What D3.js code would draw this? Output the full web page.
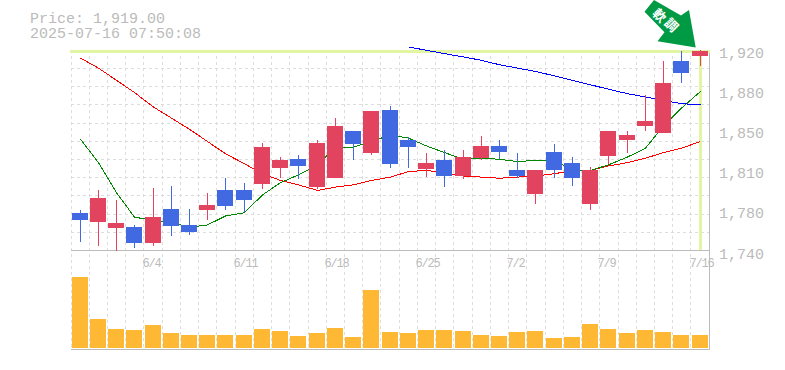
<!DOCTYPE html>
<html>
<head>
<meta charset="utf-8">
<script src="https://cdn.jsdelivr.net/npm/d3@7"></script>
<style>
  html, body { margin: 0; padding: 0; background: #fff; }
  text { font-family: "Liberation Mono", monospace; fill: #bbb; }
</style>
</head>
<body>
<svg id="chart" width="785" height="370"></svg>
<script>
const days = d3.range(35);

const opens = [1774, 1766, 1760, 1761, 1747, 1777, 1763, 1776, 1794, 1794, 1800, 1814, 1822, 1797, 1805, 1847, 1828, 1866, 1839, 1813, 1821, 1807, 1823, 1834, 1812, 1791, 1829, 1819, 1782, 1825, 1839, 1852, 1846, 1910, 1915];
const closes = [1767, 1787, 1765, 1747, 1770, 1762, 1757, 1781, 1780, 1785, 1833, 1821, 1816, 1837, 1852, 1836, 1865, 1818, 1833, 1819, 1807, 1824, 1834, 1829, 1807, 1812, 1812, 1805, 1812, 1847, 1844, 1856, 1891, 1900, 1919];
const highs = [1776, 1794, 1785, 1763, 1796, 1798, 1777, 1792, 1805, 1801, 1837, 1824, 1826, 1839, 1859, 1847, 1865, 1870, 1842, 1828, 1830, 1830, 1843, 1839, 1828, 1812, 1836, 1824, 1815, 1847, 1847, 1880, 1910, 1919, 1920];
const lows = [1748, 1744, 1740, 1742, 1744, 1753, 1754, 1767, 1776, 1775, 1795, 1805, 1804, 1795, 1805, 1821, 1826, 1814, 1814, 1806, 1797, 1804, 1821, 1822, 1805, 1782, 1805, 1798, 1776, 1818, 1828, 1847, 1846, 1891, 1906];

const maShort = [1840, 1819, 1792, 1770, 1767, 1765, 1761, 1763, 1771, 1774, 1790, 1801, 1808, 1817, 1833, 1833, 1838, 1844, 1841, 1834, 1828, 1822, 1823, 1822, 1820, 1821, 1821, 1812, 1812, 1817, 1824, 1832, 1852, 1868, 1883];
const maMid = [1913, 1904, 1893, 1882, 1869, 1859, 1849, 1838, 1827, 1818, 1809, 1803, 1799, 1794, 1797, 1799, 1803, 1806, 1811, 1812, 1810, 1807, 1806, 1805, 1806, 1807, 1809, 1812, 1812, 1816, 1819, 1823, 1828, 1832, 1838];
const maLong = [null, null, null, null, null, null, null, null, null, null, null, null, null, null, null, null, null, null, 1923, 1920, 1917, 1914, 1911, 1907, 1904, 1901, 1897, 1893, 1889, 1885, 1881, 1878, 1875, 1872, 1871];

const volumes = [71, 29, 19, 18, 23, 15, 13, 13, 13, 13, 19, 17, 12, 15, 20, 11, 58, 16, 15, 18, 18, 17, 13, 12, 16, 17, 10, 11, 24, 19, 15, 18, 16, 13, 13];

const priceTicks = [1740, 1776, 1812, 1848, 1884, 1920];
const dateTicks = [{ i: 4, label: "6/4" }, { i: 9, label: "6/11" }, { i: 14, label: "6/18" }, { i: 19, label: "6/25" }, { i: 24, label: "7/2" }, { i: 29, label: "7/9" }, { i: 34, label: "7/16" }];
const lastPrice = 1919;

const svg = d3.select("#chart");

const x = d3.scaleBand().domain(days).range([71, 709.2]);
const y = d3.scaleLinear().domain([1740, 1920]).range([250.5, 50.3]);
const yVol = d3.scaleLinear().domain([0, 74]).range([348, 274]);
const cx = i => Math.floor(x(i) + x.bandwidth() / 2) + 0.5;

// grid
const grid = svg.append("g")
  .attr("stroke", "#ddd")
  .attr("stroke-dasharray", "3,3")
  .attr("shape-rendering", "crispEdges");

grid.selectAll(".v")
  .data(d3.range(36))
  .enter()
  .append("line")
  .attr("x1", d => 71 + d * x.bandwidth())
  .attr("x2", d => 71 + d * x.bandwidth())
  .attr("y1", 50)
  .attr("y2", 349);

grid.selectAll(".h")
  .data(d3.range(11))
  .enter()
  .append("line")
  .attr("x1", 71)
  .attr("x2", 709)
  .attr("y1", d => 250.5 - d * 18.2)
  .attr("y2", d => 250.5 - d * 18.2);

// frame
svg.append("path")
  .attr("d", "M71,250.5H709.5V50M71,349.5H709.5V250.5")
  .attr("fill", "none")
  .attr("stroke", "#bbb");

// last price marker
svg.append("line")
  .attr("x1", 70).attr("x2", 710)
  .attr("y1", y(lastPrice)).attr("y2", y(lastPrice))
  .attr("stroke", "#e1f5a3").attr("stroke-width", 3);
svg.append("line")
  .attr("x1", cx(34)).attr("x2", cx(34))
  .attr("y1", 50).attr("y2", 250)
  .attr("stroke", "#e1f5a3").attr("stroke-width", 3);

// volume
svg.selectAll(".vol")
  .data(days)
  .enter()
  .append("rect")
  .attr("x", d => cx(d) - 8.5)
  .attr("width", 16)
  .attr("y", d => yVol(volumes[d]))
  .attr("height", d => 348 - yVol(volumes[d]))
  .attr("fill", "#ffb833");

// moving averages
const maLine = d3.line()
  .defined(d => d.v !== null)
  .x(d => cx(d.i))
  .y(d => y(d.v));

[[maMid, "#f00"], [maShort, "#080"], [maLong, "#00f"]].forEach(([s, c]) => {
  svg.append("path")
    .attr("d", maLine(s.map((v, i) => ({ i, v }))))
    .attr("fill", "none")
    .attr("stroke", c)
    .attr("shape-rendering", "crispEdges");
});

// candles
const candleColor = d => closes[d] >= opens[d] ? "#e2445f" : "#4169e1";

svg.selectAll(".wick")
  .data(days)
  .enter()
  .append("line")
  .attr("x1", d => cx(d))
  .attr("x2", d => cx(d))
  .attr("y1", d => y(highs[d]))
  .attr("y2", d => y(lows[d]))
  .attr("stroke", candleColor)
  .attr("shape-rendering", "crispEdges");

svg.selectAll(".body")
  .data(days)
  .enter()
  .append("rect")
  .attr("x", d => cx(d) - 8.5)
  .attr("width", 16)
  .attr("y", d => y(Math.max(opens[d], closes[d])))
  .attr("height", d => Math.abs(y(opens[d]) - y(closes[d])))
  .attr("fill", candleColor)
  .attr("shape-rendering", "crispEdges");

// labels
svg.selectAll(".price")
  .data(priceTicks)
  .enter()
  .append("text")
  .attr("x", 719)
  .attr("y", d => y(d) + 8)
  .attr("font-size", "15px")
  .text(d => d3.format(",")(Math.round(d / 10) * 10));

svg.selectAll(".date")
  .data(dateTicks)
  .enter()
  .append("text")
  .attr("x", d => cx(d.i) - 11)
  .attr("y", 267)
  .attr("font-size", "12px")
  .attr("letter-spacing", "-1.2px")
  .text(d => d.label);

svg.append("text").attr("x", 30).attr("y", 23).attr("font-size", "15px").text("Price: 1,919.00");
svg.append("text").attr("x", 30).attr("y", 38).attr("font-size", "15px").text("2025-07-16 07:50:08");

// trend arrow
svg.append("path")
  .attr("d", "M644.5,11.7L654,0L681,15.5L689,10L695.7,47.5L657.5,41.3L664.5,32.3Z")
  .attr("fill", "#009a44");

svg.append("text")
  .attr("transform", "translate(660,15) rotate(45)")
  .attr("text-anchor", "middle")
  .attr("dominant-baseline", "central")
  .attr("font-size", "13px")
  .attr("font-weight", "bold")
  .style("font-family", "'Noto Sans CJK JP'")
  .style("fill", "#fff")
  .text("軟");
svg.append("text")
  .attr("transform", "translate(672,24.5) rotate(45)")
  .attr("text-anchor", "middle")
  .attr("dominant-baseline", "central")
  .attr("font-size", "13px")
  .attr("font-weight", "bold")
  .style("font-family", "'Noto Sans CJK JP'")
  .style("fill", "#fff")
  .text("調");
</script>
</body>
</html>
